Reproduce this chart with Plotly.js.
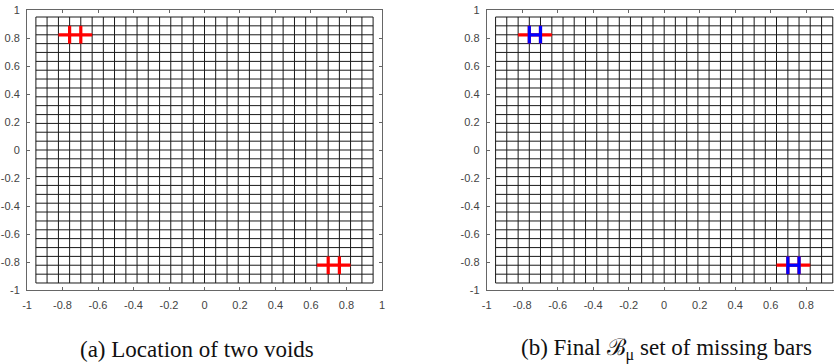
<!DOCTYPE html>
<html>
<head>
<meta charset="utf-8">
<script src="https://cdn.plot.ly/plotly-3.0.1.min.js"></script>
<style>html,body{margin:0;padding:0;background:#fff;}#chart{width:834px;height:364px;}</style>
</head>
<body>
<div id="chart"></div>
<script>
// Truss grid node coordinates (30 x 30 cells)
const gridNodes = [-0.95,-0.887,-0.823,-0.76,-0.697,-0.633,-0.57,-0.507,-0.443,-0.38,-0.317,-0.253,-0.19,-0.127,-0.063,0,
  0.063,0.127,0.19,0.253,0.317,0.38,0.443,0.507,0.57,0.633,0.697,0.76,0.823,0.887,0.95];

// Bars crossing the two voids (red) : [x0, y0, x1, y1]
const voidBars = [
  [-0.823, 0.823, -0.633, 0.823],
  [-0.76, 0.887, -0.76, 0.76],
  [-0.697, 0.887, -0.697, 0.76],
  [0.633, -0.823, 0.823, -0.823],
  [0.697, -0.76, 0.697, -0.887],
  [0.76, -0.76, 0.76, -0.887]
];
// Final set of missing bars (blue) : [x0, y0, x1, y1]
const finalBars = [
  [-0.76, 0.887, -0.76, 0.76],
  [-0.697, 0.887, -0.697, 0.76],
  [-0.76, 0.823, -0.697, 0.823],
  [0.697, -0.76, 0.697, -0.887],
  [0.76, -0.76, 0.76, -0.887],
  [0.697, -0.823, 0.76, -0.823]
];

const tickVals = [-1,-0.8,-0.6,-0.4,-0.2,0,0.2,0.4,0.6,0.8,1];
const tickText = ['-1','-0.8','-0.6','-0.4','-0.2','0','0.2','0.4','0.6','0.8','1'];
const tickVals2 = [-1,-0.8,-0.6,-0.4,-0.2,0,0.2,0.4,0.6,0.8];
const tickText2 = ['-1','-0.8','-0.6','-0.4','-0.2','0','0.2','0.4','0.6','0.8'];
const captions = ['(a) Location of two voids', '(b) Final ℬ<sub>μ</sub> set of missing bars'];

function gridTrace(xa, ya) {
  const x = [], y = [];
  const lo = gridNodes[0], hi = gridNodes[gridNodes.length - 1];
  gridNodes.forEach(v => { x.push(v, v, null); y.push(lo, hi, null); });
  gridNodes.forEach(v => { x.push(lo, hi, null); y.push(v, v, null); });
  return {x, y, xaxis: xa, yaxis: ya, mode: 'lines', type: 'scatter',
    line: {color: '#1a1a1a', width: 1}, hoverinfo: 'skip', showlegend: false};
}
function barTrace(bars, color, xa, ya) {
  const x = [], y = [];
  bars.forEach(b => { x.push(b[0], b[2], null); y.push(b[1], b[3], null); });
  return {x, y, xaxis: xa, yaxis: ya, mode: 'lines', type: 'scatter',
    line: {color: color, width: 3.2}, hoverinfo: 'skip', showlegend: false};
}

const data = [
  gridTrace('x', 'y'),
  barTrace(voidBars, '#ff0000', 'x', 'y'),
  gridTrace('x2', 'y2'),
  barTrace(voidBars, '#ff0000', 'x2', 'y2'),
  barTrace(finalBars, '#0000ff', 'x2', 'y2')
];

const axBase = {
  showgrid: false, zeroline: false, showline: true, linecolor: '#666', linewidth: 1,
  ticks: 'inside', ticklen: 3, tickcolor: '#666', tickwidth: 1,
  tickvals: tickVals, ticktext: tickText,
  tickfont: {family: 'Liberation Sans, Arial, sans-serif', size: 11, color: '#444'},
  fixedrange: true
};
const xExtra = {ticklabelstandoff: 5};
const yExtra = {ticklabelstandoff: 4};
const yDom = [0.2033, 0.9725];
const capFont = {family: 'Liberation Serif, Times New Roman, serif', size: 23, color: '#111'};
const layout = {
  width: 834, height: 364,
  margin: {l: 0, r: 0, t: 0, b: 0},
  paper_bgcolor: '#fff', plot_bgcolor: '#fff',
  showlegend: false,
  xaxis: Object.assign({}, axBase, xExtra, {domain: [0.0324, 0.458], range: [-1, 1], anchor: 'y', mirror: 'ticks'}),
  yaxis: Object.assign({}, axBase, yExtra, {domain: yDom, range: [-1, 1], anchor: 'x', mirror: 'ticks'}),
  xaxis2: Object.assign({}, axBase, xExtra, {domain: [0.5836, 1], range: [-1, 0.957], anchor: 'y2', mirror: 'ticks',
    tickvals: tickVals2, ticktext: tickText2}),
  yaxis2: Object.assign({}, axBase, yExtra, {domain: yDom, range: [-1, 1], anchor: 'x2', mirror: false}),
  annotations: [
    {text: captions[0], xref: 'paper', yref: 'paper', x: 0.2368, y: 0.0385, xanchor: 'center', yanchor: 'middle',
     showarrow: false, font: capFont},
    {text: captions[1], xref: 'paper', yref: 'paper', x: 0.7986, y: 0.0385, xanchor: 'center', yanchor: 'middle',
     showarrow: false, font: capFont}
  ]
};
Plotly.newPlot('chart', data, layout, {staticPlot: true, displayModeBar: false});
</script>
</body>
</html>
